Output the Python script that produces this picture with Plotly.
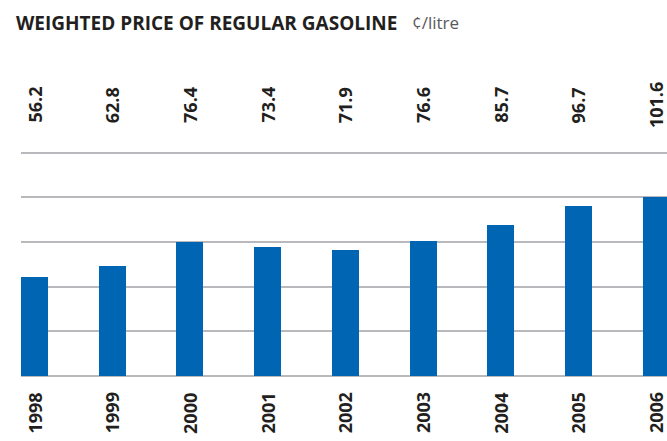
import plotly.graph_objects as go

years = ["1998", "1999", "2000", "2001", "2002", "2003", "2004", "2005", "2006"]
prices = [56.2, 62.8, 76.4, 73.4, 71.9, 76.6, 85.7, 96.7, 101.6]
price_labels = ["56.2", "62.8", "76.4", "73.4", "71.9", "76.6", "85.7", "96.7", "101.6"]

W, H = 667, 441
ML, MR, MT, MB = 21, 0, 150, 65
plot_h = H - MT - MB

def py(p):
    return (H - MB - p) / plot_h

def px(p):
    return (p - ML) / (W - ML - MR)

FONT = "Open Sans"
DARK = "#231f20"

fig = go.Figure()
fig.add_trace(go.Bar(x=years, y=prices, marker=dict(color="#0066b3", line=dict(width=0)),
                     width=0.347, hoverinfo="x+y"))

annotations = []
for i, (yr, lab) in enumerate(zip(years, price_labels)):
    annotations.append(dict(x=i, y=py(105), xref="x", yref="paper", text="<b>%s</b>" % lab,
                            textangle=-90, showarrow=False, xanchor="center", yanchor="middle",
                            font=dict(family=FONT, size=18, color=DARK)))
    annotations.append(dict(x=i, y=py(413), xref="x", yref="paper", text="<b>%s</b>" % yr,
                            textangle=-90, showarrow=False, xanchor="center", yanchor="middle",
                            font=dict(family=FONT, size=18, color=DARK)))

annotations.append(dict(x=px(14), y=py(23), xref="paper", yref="paper",
                        text="<b>WEIGHTED PRICE OF REGULAR GASOLINE</b>", showarrow=False,
                        xanchor="left", yanchor="middle",
                        font=dict(family=FONT, size=19, color=DARK)))
annotations.append(dict(x=px(410), y=py(23), xref="paper", yref="paper",
                        text="¢/litre", showarrow=False, xanchor="left", yanchor="middle",
                        font=dict(family=FONT, size=17, color="#58595b")))

fig.update_layout(
    width=W, height=H,
    margin=dict(l=ML, r=MR, t=MT, b=MB, pad=0),
    paper_bgcolor="white", plot_bgcolor="white",
    showlegend=False,
    bargap=0,
    annotations=annotations,
    xaxis=dict(type="category", range=[-0.174, 8.14], showticklabels=False, showgrid=False,
               zeroline=False, showline=False, ticks=""),
    yaxis=dict(range=[0, 128.5], tick0=0, dtick=25.4, showticklabels=False, ticks="",
               showgrid=True, gridcolor="#b9b9bd", gridwidth=2,
               zeroline=True, zerolinecolor="#b9b9bd", zerolinewidth=2, showline=False),
)

fig.write_html("out.html", config={"displayModeBar": False},
               post_script="document.body.style.margin='0px';")
